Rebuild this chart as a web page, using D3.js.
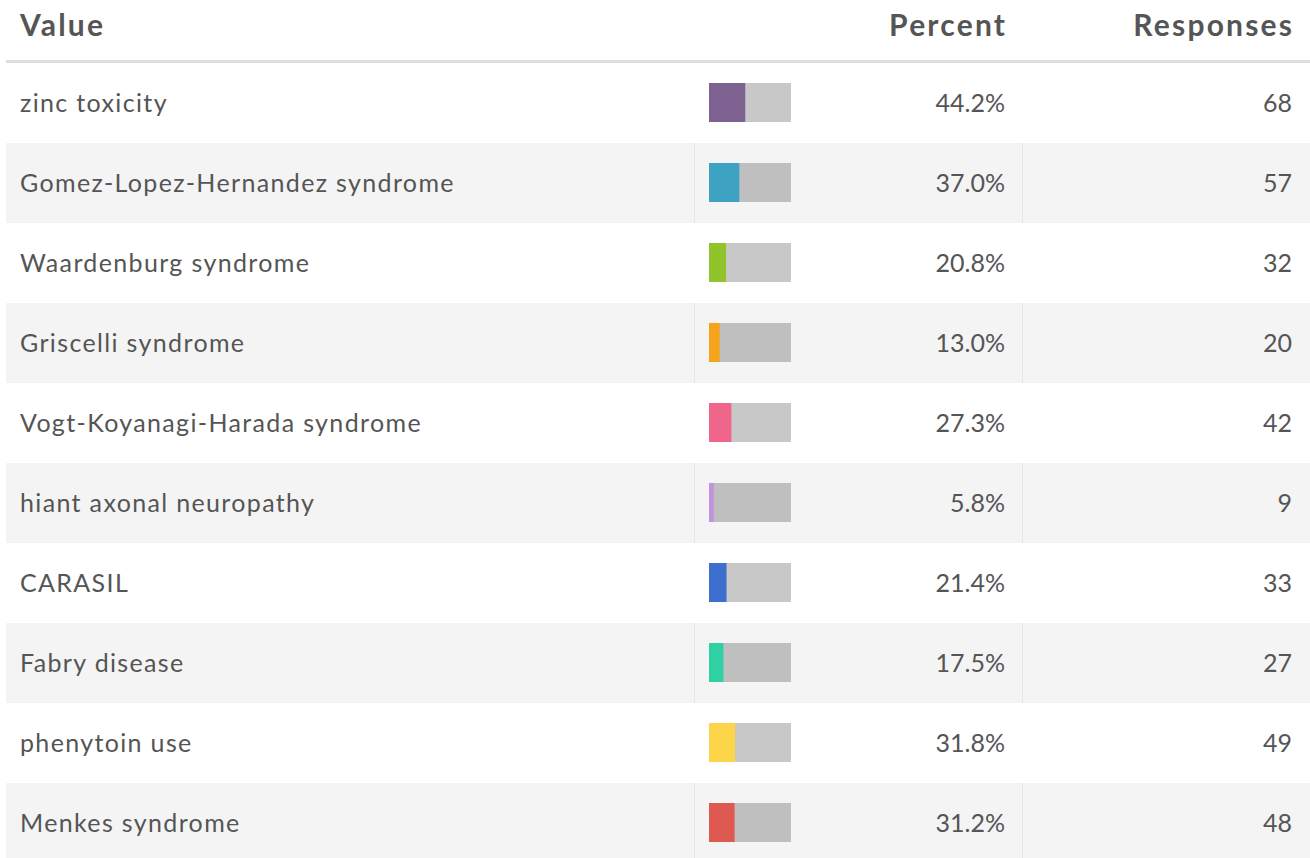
<!DOCTYPE html>
<html>
<head>
<meta charset="utf-8">
<script src="https://cdn.jsdelivr.net/npm/d3@7"></script>
<style>
  html, body { margin: 0; padding: 0; background: #fff; }
  svg { display: block; font-family: Lato, "Open Sans", sans-serif; }
</style>
</head>
<body>
<svg id="chart" width="1310" height="858"></svg>
<script>
const categories = [
  "zinc toxicity",
  "Gomez-Lopez-Hernandez syndrome",
  "Waardenburg syndrome",
  "Griscelli syndrome",
  "Vogt-Koyanagi-Harada syndrome",
  "hiant axonal neuropathy",
  "CARASIL",
  "Fabry disease",
  "phenytoin use",
  "Menkes syndrome"
];
const percents = [44.2, 37.0, 20.8, 13.0, 27.3, 5.8, 21.4, 17.5, 31.8, 31.2];
const responses = [68, 57, 32, 20, 42, 9, 33, 27, 49, 48];
const colors = ["#7d6190", "#3ea3c3", "#90c42a", "#f5a31b", "#f0668a", "#c293dc", "#3c6fce", "#2fd0a3", "#fdd54b", "#de5a50"];
const headers = ["Value", "Percent", "Responses"];

const W = 1310, H = 858;
const svg = d3.select("#chart");
const rowTop = 63, rowH = 80;

const y = d3.scaleBand().domain(d3.range(categories.length)).range([rowTop, rowTop + rowH * categories.length]).padding(0);
const barX = d3.scaleLinear().domain([0, 100]).range([709, 791]);

const data = categories.map((c, i) => ({ c, p: percents[i], r: responses[i], color: colors[i], i }));

// header
svg.append("rect").attr("x", 6).attr("y", 60).attr("width", W - 6).attr("height", 3).attr("fill", "#dedede");
const hdr = svg.append("g").attr("font-weight", 700).attr("font-size", 30).attr("fill", "#555")
  .attr("letter-spacing", "2.2px");
hdr.append("text").attr("x", 20).attr("y", 36).text(headers[0]);
hdr.append("text").attr("x", 1007.2).attr("y", 36).attr("text-anchor", "end").text(headers[1]);
hdr.append("text").attr("x", 1294.2).attr("y", 36).attr("text-anchor", "end").text(headers[2]);

const rows = svg.append("g").selectAll("g").data(data).join("g")
  .attr("transform", d => `translate(0,${y(d.i)})`);

rows.filter(d => d.i % 2 === 1).append("rect")
  .attr("x", 6).attr("y", 0).attr("width", W - 6).attr("height", y.bandwidth()).attr("fill", "#f4f4f4");
rows.filter(d => d.i % 2 === 1).append("rect")
  .attr("x", 694).attr("y", 0).attr("width", 1).attr("height", y.bandwidth()).attr("fill", "#e6e6e6");
rows.filter(d => d.i % 2 === 1).append("rect")
  .attr("x", 1022).attr("y", 0).attr("width", 1).attr("height", y.bandwidth()).attr("fill", "#e6e6e6");

rows.append("rect")
  .attr("x", barX(0)).attr("y", 20).attr("width", barX(100) - barX(0)).attr("height", 39)
  .attr("fill", "rgba(0,0,0,0.215)");
rows.append("rect")
  .attr("x", barX(0)).attr("y", 20).attr("width", d => barX(d.p) - barX(0)).attr("height", 39)
  .attr("fill", d => d.color);

const txt = rows.append("g").attr("font-size", 25).attr("fill", "#555");
txt.append("text").attr("x", 20).attr("y", 49).attr("letter-spacing", "1.35px").text(d => d.c);
txt.append("text").attr("x", 1005).attr("y", 49).attr("text-anchor", "end").text(d => d.p.toFixed(1) + "%");
txt.append("text").attr("x", 1292).attr("y", 49).attr("text-anchor", "end").text(d => d.r);
</script>
</body>
</html>
